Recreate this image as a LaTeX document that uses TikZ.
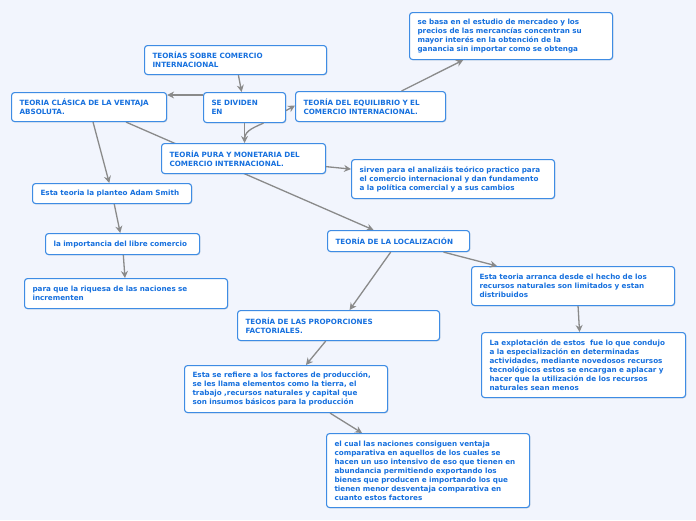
\documentclass[tikz,border=0pt]{standalone}
\usepackage{fontspec}
\setmainfont{DejaVu Sans}
\usetikzlibrary{arrows.meta,shadows,calc}
\definecolor{bg}{RGB}{242,245,253}
\definecolor{bordc}{RGB}{62,140,228}
\definecolor{txtc}{RGB}{22,112,222}
\definecolor{linec}{RGB}{138,138,138}
\pgfdeclarelayer{back}
\pgfsetlayers{back,main}
\hyphenpenalty=10000
\exhyphenpenalty=10000
\tikzset{
  box/.style={draw=bordc, line width=1.1pt, fill=white, rounded corners=3pt,
    anchor=north west, inner xsep=8pt, inner ysep=0pt, align=left,
    font=\fontsize{7.2}{9}\selectfont\bfseries, text=txtc,
    drop shadow={opacity=0.25, shadow xshift=0.8pt, shadow yshift=-0.8pt}},
  arr/.style={draw=linec, line width=1.3pt, -{Stealth[length=7pt,width=7pt]}},
  ln/.style={draw=linec, line width=1.3pt}
}
\newcommand{\bx}[7]{\node[box, text width=#4pt-16pt, minimum width=#4pt, minimum height=#5pt] (#1) at (#2,#3) {#6};}
\begin{document}
\begin{tikzpicture}[x=1pt,y=-1pt]
\useasboundingbox (0,0) rectangle (696,520);
\bx{n1}{144}{45}{182}{29}{TEORÍAS SOBRE COMERCIO\\INTERNACIONAL}{}
\bx{n2}{11}{92}{155}{29}{TEORIA CLÁSICA DE LA VENTAJA\\ABSOLUTA.}{}
\bx{n3}{203}{92}{82}{30}{SE DIVIDEN\\EN}{}
\bx{n4}{295}{91}{150}{30}{TEORÍA DEL EQUILIBRIO Y EL\\COMERCIO INTERNACIONAL.}{}
\bx{n5}{409}{12}{203}{47}{se basa en el estudio de mercadeo y los\\precios de las mercancías concentran su\\mayor interés en la obtención de la\\ganancia sin importar como se obtenga}{}
\bx{n6}{161}{143}{164}{30}{TEORÍA PURA Y MONETARIA DEL\\COMERCIO INTERNACIONAL.}{}
\bx{n7}{351}{159}{203}{39}{sirven para el analizáis teórico practico para\\el comercio internacional y dan fundamento\\a la política comercial y a sus cambios}{}
\bx{n8}{32}{183}{159}{20}{Esta teoria la planteo Adam Smith}{}
\bx{n9}{45}{233}{154}{21}{la importancia del libre comercio}{}
\bx{n10}{24}{278}{203}{30}{para que la riquesa de las naciones se\\incrementen}{}
\bx{n11}{327}{230}{142}{21}{TEORÍA DE LA LOCALIZACIÓN}{}
\bx{n12}{471}{266}{203}{39}{Esta teoria arranca desde el hecho de los\\recursos naturales son limitados y estan\\distribuidos}{}
\bx{n13}{237}{310}{202}{30}{TEORÍA DE LAS PROPORCIONES\\FACTORIALES.}{}
\bx{n14}{184}{365}{203}{47}{Esta se refiere a los factores de producción,\\se les llama elementos como la tierra, el\\trabajo ,recursos naturales y capital que\\son insumos básicos para la producción}{}
\bx{n15}{481}{332}{204}{65}{La explotación de estos~ fue lo que condujo\\a la especialización en determinadas\\actividades, mediante novedosos recursos\\tecnológicos estos se encargan e aplacar y\\hacer que la utilización de los recursos\\naturales sean menos}{}
\bx{n16}{326}{433}{203}{74}{el cual las naciones consiguen ventaja\\comparativa en aquellos de los cuales se\\hacen un uso intensivo de eso que tienen en\\abundancia permitiendo exportando los\\bienes que producen e importando los que\\tienen menor desventaja comparativa en\\cuanto estos factores}{}
\begin{pgfonlayer}{back}
\fill[bg] (0,0) rectangle (696,520);
\draw[arr] ([xshift=37pt]n2.south) -- ([xshift=-25pt]n11.north);
\end{pgfonlayer}
% connectors
\draw[arr] (n1) -- (n3);
\draw[arr] ([yshift=-3pt]n3.north west) -- ([yshift=-3pt]n3.north west -| n2.east);
\draw[arr] ([yshift=-3pt]n3.east) -- ([yshift=1pt]n4.west);
\draw[arr] (n4) -- (n5);
\draw[arr] (n6) -- (n7);
\draw[arr] (n2) -- (n8);
\draw[arr] (n8) -- (n9);
\draw[arr] (n9) -- (n10);
\draw[arr] (n3.south) -- (n3.south |- n6.north);
\draw[ln] ([xshift=19pt]n3.south) .. controls +(-14,6) and +(0,-8) .. ([yshift=3pt]n3.south |- n6.north);
\draw[arr] (n11) -- (n13);
\draw[arr] ([xshift=45pt]n11.south) -- ([xshift=-76pt]n12.north);
\draw[arr] ([xshift=5pt]n12.south) -- ([xshift=-4pt]n15.north);
\draw[arr] (n13) -- (n14);
\draw[arr] ([xshift=44pt]n14.south) -- ([xshift=-66pt]n16.north);
\end{tikzpicture}
\end{document}
